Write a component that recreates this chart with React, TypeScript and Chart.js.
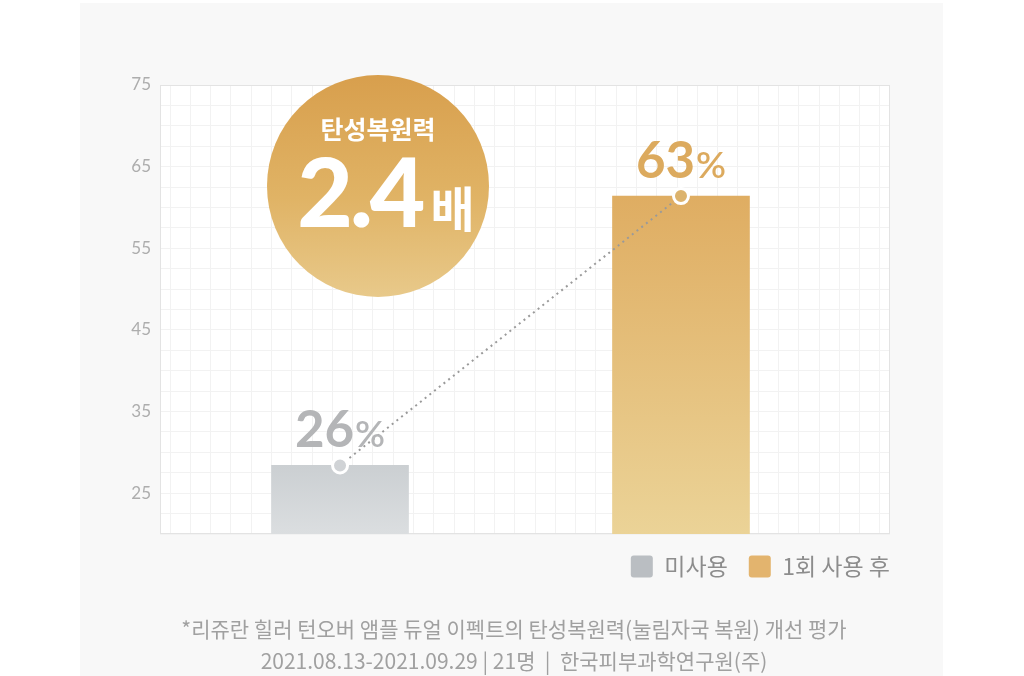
import React, { useEffect, useRef } from 'react';
import { Chart, registerables } from 'chart.js';

Chart.register(...registerables);

// ---- data ----
const seriesNames = ['미사용', '1회 사용 후'];
const seriesX = [1, 2];
const seriesValues = [28.4, 61.4];
const valueLabels = ['26', '63'];
const valueUnit = '%';
const yTickValues = [25, 35, 45, 55, 65, 75];
const badgeTitle = '탄성복원력';
const badgeNumber = '2.4';
const badgeUnit = '배';
const noteLines = [
  '*리쥬란 힐러 턴오버 앰플 듀얼 이펙트의 탄성복원력(눌림자국 복원) 개선 평가',
  '2021.08.13-2021.09.29 | 21명  |  한국피부과학연구원(주)',
];

// ---- styles ----
const legendColors = ['#babec2', '#e3b46e'];
const gradTop = ['#cbcfd2', '#dfad62'];
const gradBottom = ['#dbdee0', '#ebd397'];
const labelColors = ['#b4b5b7', '#dcaa5e'];
const pointColors = ['#d0d3d6', '#dcb36d'];

const makeGradient = (i: number) => (ctx: any) => {
  const chart = ctx.chart;
  const area = chart.chartArea;
  if (!area) return legendColors[i];
  const top = chart.scales.y.getPixelForValue(seriesValues[i]);
  const g = chart.ctx.createLinearGradient(0, top, 0, area.bottom);
  g.addColorStop(0, gradTop[i]);
  g.addColorStop(1, gradBottom[i]);
  return g;
};

const plotBgPlugin = {
  id: 'plotBg',
  beforeDraw(chart: any) {
    const { ctx, chartArea: a } = chart;
    ctx.save();
    ctx.fillStyle = '#ffffff';
    ctx.fillRect(a.left, a.top, a.right - a.left, a.bottom - a.top);
    ctx.restore();
  },
  beforeDatasetsDraw(chart: any) {
    const { ctx, chartArea: a } = chart;
    ctx.save();
    ctx.strokeStyle = '#e3e3e3';
    ctx.lineWidth = 1;
    ctx.strokeRect(a.left + 0.5, a.top + 0.5, a.right - a.left - 1, a.bottom - a.top - 1);
    ctx.restore();
  },
};

const valueLabelPlugin = {
  id: 'valueLabels',
  afterDatasetsDraw(chart: any) {
    const ctx = chart.ctx;
    seriesNames.forEach((_, i) => {
      const el = chart.getDatasetMeta(i).data[0];
      if (!el) return;
      ctx.save();
      const numFont = 'bold 51px Lato, "Noto Sans", sans-serif';
      const unitFont = '600 37px Lato, "Noto Sans", sans-serif';
      ctx.font = numFont;
      const w1 = ctx.measureText(valueLabels[i]).width;
      ctx.font = unitFont;
      const w2 = ctx.measureText(valueUnit).width;
      const x0 = el.x - (w1 + w2 + 1) / 2;
      const y0 = el.y - 18;
      ctx.fillStyle = labelColors[i];
      ctx.textAlign = 'left';
      ctx.textBaseline = 'alphabetic';
      ctx.font = numFont;
      ctx.fillText(valueLabels[i], x0, y0);
      ctx.font = unitFont;
      ctx.fillText(valueUnit, x0 + w1 + 1, y0);
      ctx.restore();
    });
  },
};

function ChartCanvas() {
  const ref = useRef<HTMLCanvasElement>(null);
  useEffect(() => {
    if (!ref.current) return;
    const chart = new Chart(ref.current, {
      type: 'bar',
      data: {
        datasets: [
          ...seriesNames.map((name, i) => ({
            type: 'bar' as const,
            label: name,
            data: [{ x: seriesX[i], y: seriesValues[i] }],
            backgroundColor: makeGradient(i),
            barThickness: 137,
            grouped: false,
            order: 2,
            xAxisID: 'x',
            yAxisID: 'y',
          })),
          {
            type: 'line' as const,
            label: 'link',
            data: seriesX.map((x, i) => ({ x, y: seriesValues[i] })),
            borderColor: '#9a9a9a',
            borderWidth: 2,
            borderDash: [2, 4],
            fill: false,
            pointRadius: 7.5,
            pointBorderWidth: 3,
            pointBackgroundColor: pointColors,
            pointBorderColor: '#ffffff',
            order: 0,
            xAxisID: 'x',
            yAxisID: 'y',
          },
        ],
      } as any,
      options: {
        responsive: false,
        animation: false,
        layout: { padding: { left: 90, right: 113, top: 85, bottom: 88 } },
        scales: {
          x: {
            type: 'linear',
            display: false,
            offset: false,
            min: 0.472,
            max: 2.613,
          },
          xMinor: {
            type: 'linear',
            position: 'bottom',
            offset: false,
            min: 0,
            max: 36,
            ticks: { display: false, stepSize: 1 },
            grid: { color: '#f2f2f2', drawTicks: false },
            border: { display: false },
            afterFit: (s: any) => { s.height = 0; },
          },
          y: {
            type: 'linear',
            min: 20,
            max: 75,
            afterBuildTicks: (s: any) => { s.ticks = yTickValues.map((v) => ({ value: v })); },
            afterFit: (s: any) => { s.width = 70; },
            ticks: {
              color: '#adadad',
              padding: 9,
              font: { family: 'Lato, "Noto Sans", sans-serif', size: 17 },
            },
            grid: { color: '#ebebeb', drawTicks: false },
            border: { display: false },
          },
          yMinor: {
            type: 'linear',
            position: 'right',
            min: 20,
            max: 75,
            ticks: { display: false, stepSize: 2.5 },
            grid: { color: '#f2f2f2', drawTicks: false },
            border: { display: false },
            afterFit: (s: any) => { s.width = 21; },
          },
        },
        plugins: {
          tooltip: { enabled: false },
          legend: {
            position: 'bottom',
            align: 'end',
            labels: {
              boxWidth: 22,
              boxHeight: 22,
              padding: 21,
              color: '#8d8d8d',
              useBorderRadius: true,
              borderRadius: 3,
              font: { family: '"Noto Sans CJK KR", sans-serif', size: 23 },
              generateLabels: () =>
                seriesNames.map((name, i) => ({
                  text: name,
                  fillStyle: legendColors[i],
                  strokeStyle: legendColors[i],
                  lineWidth: 0,
                  fontColor: '#8d8d8d',
                  datasetIndex: i,
                  hidden: false,
                  borderRadius: 3,
                })),
            },
          },
        },
      } as any,
      plugins: [plotBgPlugin, valueLabelPlugin],
    });
    return () => chart.destroy();
  }, []);
  return <canvas ref={ref} width={1024} height={676} style={{ position: 'absolute', left: 0, top: 0, width: 1024, height: 676 }} />;
}

export default function App() {
  return (
    <div style={{ position: 'fixed', left: 0, top: 0, width: 1024, height: 676, background: '#ffffff', overflow: 'hidden' }}>
      <div style={{ position: 'absolute', left: 80, top: 3, width: 863, height: 673, background: '#f8f8f8' }} />
      <ChartCanvas />
      <div
        style={{
          position: 'absolute', left: 267, top: 75, width: 222, height: 222, borderRadius: '50%',
          background: 'linear-gradient(180deg, #d89f4d 0%, #e0b365 55%, #e8c98a 100%)',
        }}
      >
        <div style={{ position: 'absolute', left: 0, right: 0, top: 38, textAlign: 'center', color: '#fff', fontFamily: '"Noto Sans CJK KR", sans-serif', fontWeight: 700, fontSize: 25, lineHeight: '30px', whiteSpace: 'nowrap' }}>
          {badgeTitle}
        </div>
        <div style={{ position: 'absolute', left: 16, right: 0, top: 70, textAlign: 'center', color: '#fff', whiteSpace: 'nowrap', lineHeight: '90px', height: 90 }}>
          <span style={{ fontFamily: 'Lato, "Noto Sans", sans-serif', fontWeight: 900, fontSize: 96, letterSpacing: -3 }}>{badgeNumber}</span>
          <span style={{ fontFamily: '"Noto Sans CJK KR", sans-serif', fontWeight: 700, fontSize: 48, marginLeft: 8 }}>{badgeUnit}</span>
        </div>
      </div>
      {noteLines.map((t, i) => (
        <div
          key={i}
          style={{
            position: 'absolute', left: 2, width: 1024, top: 612 + i * 32, textAlign: 'center',
            fontFamily: '"Noto Sans CJK KR", sans-serif', fontSize: 21, lineHeight: '32px', color: '#a0a0a0', whiteSpace: 'pre',
          }}
        >
          {t}
        </div>
      ))}
    </div>
  );
}
